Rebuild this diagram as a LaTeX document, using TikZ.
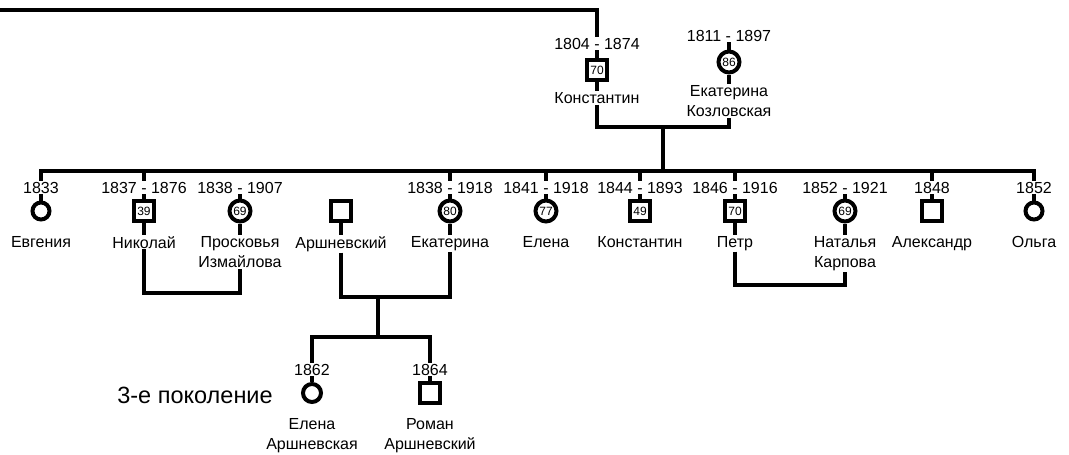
\documentclass[tikz,border=0pt]{standalone}
\usepackage{fontspec}
\setmainfont{Liberation Sans}
\usetikzlibrary{positioning}

\begin{document}
\begin{tikzpicture}[x=1pt, y=-1pt, font=\fontsize{16}{20}\selectfont,
	link/.style={line width=4.5pt},
	man/.style={rectangle, draw, line width=4pt, minimum size=20pt, inner sep=0pt, font=\fontsize{12}{12}\selectfont},
	woman/.style={circle, draw, line width=4pt, minimum size=21pt, inner sep=0pt, font=\fontsize{12}{12}\selectfont},
	yr/.style={anchor=base, inner sep=1pt},
	nm/.style={anchor=north, inner sep=1pt, align=center}]
	\useasboundingbox (0,0) rectangle (1069,455);

	% 1st generation
	\coordinate (top) at (0,10);
	\node[yr] (k1-y) at (597,49) {1804 - 1874};
	\node[man] (k1) at (597,70) {70};
	\node[nm] (k1-n) at (597,91) {Константин};
	\node[yr] (kz-y) at (729,41) {1811 - 1897};
	\node[woman] (kz) at (729,62) {86};
	\node[nm] (kz-n) at (729,84) {Екатерина\\Козловская};
	\coordinate (c1) at (663,127);
	\coordinate (c2) at (663,171);

	% 2nd generation
	\node[yr] (ev-y) at (41,193) {1833};
	\node[woman, minimum size=17pt] (ev) at (41,211) {};
	\node[nm] (ev-n) at (41,235) {Евгения};
	\node[yr] (ni-y) at (144,193) {1837 - 1876};
	\node[man] (ni) at (144,211) {39};
	\node[nm] (ni-n) at (144,235) {Николай};
	\node[yr] (pr-y) at (240,193) {1838 - 1907};
	\node[woman] (pr) at (240,211) {69};
	\node[nm] (pr-n) at (240,235) {Просковья\\Измайлова};
	\node[man] (ar) at (341,211) {};
	\node[nm] (ar-n) at (341,235) {Аршневский};
	\node[yr] (ek-y) at (450,193) {1838 - 1918};
	\node[woman] (ek) at (450,211) {80};
	\node[nm] (ek-n) at (450,235) {Екатерина};
	\node[yr] (el-y) at (546,193) {1841 - 1918};
	\node[woman] (el) at (546,211) {77};
	\node[nm] (el-n) at (546,235) {Елена};
	\node[yr] (ko-y) at (640,193) {1844 - 1893};
	\node[man] (ko) at (640,211) {49};
	\node[nm] (ko-n) at (640,235) {Константин};
	\node[yr] (pe-y) at (735,193) {1846 - 1916};
	\node[man] (pe) at (735,211) {70};
	\node[nm] (pe-n) at (735,235) {Петр};
	\node[yr] (na-y) at (845,193) {1852 - 1921};
	\node[woman] (na) at (845,211) {69};
	\node[nm] (na-n) at (845,235) {Наталья\\Карпова};
	\node[yr] (al-y) at (932,193) {1848};
	\node[man] (al) at (932,211) {};
	\node[nm] (al-n) at (932,235) {Александр};
	\node[yr] (ol-y) at (1034,193) {1852};
	\node[woman, minimum size=17pt] (ol) at (1034,211) {};
	\node[nm] (ol-n) at (1034,235) {Ольга};
	\coordinate (c-ni) at (192,293);
	\coordinate (c-ek) at (378,297);
	\coordinate (c-pe) at (790,285);
	\coordinate (c3) at (378,337);

	% 3rd generation
	\node[font=\fontsize{23.5}{26}\selectfont] (gen3) at (195,395) {3-е поколение};
	\node[yr] (e3-y) at (312,375) {1862};
	\node[woman, minimum size=18pt] (e3) at (312,393) {};
	\node[nm] (e3-n) at (312,417) {Елена\\Аршневская};
	\node[yr] (r3-y) at (430,375) {1864};
	\node[man] (r3) at (430,393) {};
	\node[nm] (r3-n) at (430,417) {Роман\\Аршневский};

	% lines
	\draw[link] (top) -| (k1-y.north);
	\draw[link] (k1-n.south) |- (c1) -| (kz-n.south);
	\draw[link] (c1) -- (c2);
	\draw[link] (ev-y.north) |- (c2) -| (ol-y.north);
	\draw[link] (ni-y.north) -- (ni-y.north |- c2);
	\draw[link] (ek-y.north) -- (ek-y.north |- c2);
	\draw[link] (el-y.north) -- (el-y.north |- c2);
	\draw[link] (ko-y.north) -- (ko-y.north |- c2);
	\draw[link] (pe-y.north) -- (pe-y.north |- c2);
	\draw[link] (al-y.north) -- (al-y.north |- c2);
	\draw[link] (ni-n.south) |- (c-ni) -| (pr-n.south);
	\draw[link] (ar-n.south) |- (c-ek) -| (ek-n.south);
	\draw[link] (pe-n.south) |- (c-pe) -| (na-n.south);
	\draw[link] (c-ek) -- (c3);
	\draw[link] (e3-y.north) |- (c3) -| (r3-y.north);

	% short ticks at the symbols
	\draw[link] (k1-y.south) -- (k1.north);
	\draw[link] (k1.south) -- (k1-n.north);
	\draw[link] (kz-y.south) -- (kz.north);
	\draw[link] (kz.south) -- (kz-n.north);
	\draw[link] (ev-y.south) -- (ev.north);
	\draw[link] (ni-y.south) -- (ni.north);
	\draw[link] (ni.south) -- (ni-n.north);
	\draw[link] (pr-y.south) -- (pr.north);
	\draw[link] (pr.south) -- (pr-n.north);
	\draw[link] (ar.south) -- (ar-n.north);
	\draw[link] (ek-y.south) -- (ek.north);
	\draw[link] (ek.south) -- (ek-n.north);
	\draw[link] (el-y.south) -- (el.north);
	\draw[link] (ko-y.south) -- (ko.north);
	\draw[link] (pe-y.south) -- (pe.north);
	\draw[link] (pe.south) -- (pe-n.north);
	\draw[link] (na-y.south) -- (na.north);
	\draw[link] (na.south) -- (na-n.north);
	\draw[link] (al-y.south) -- (al.north);
	\draw[link] (ol-y.south) -- (ol.north);
	\draw[link] (e3-y.south) -- (e3.north);
	\draw[link] (r3-y.south) -- (r3.north);
\end{tikzpicture}
\end{document}
